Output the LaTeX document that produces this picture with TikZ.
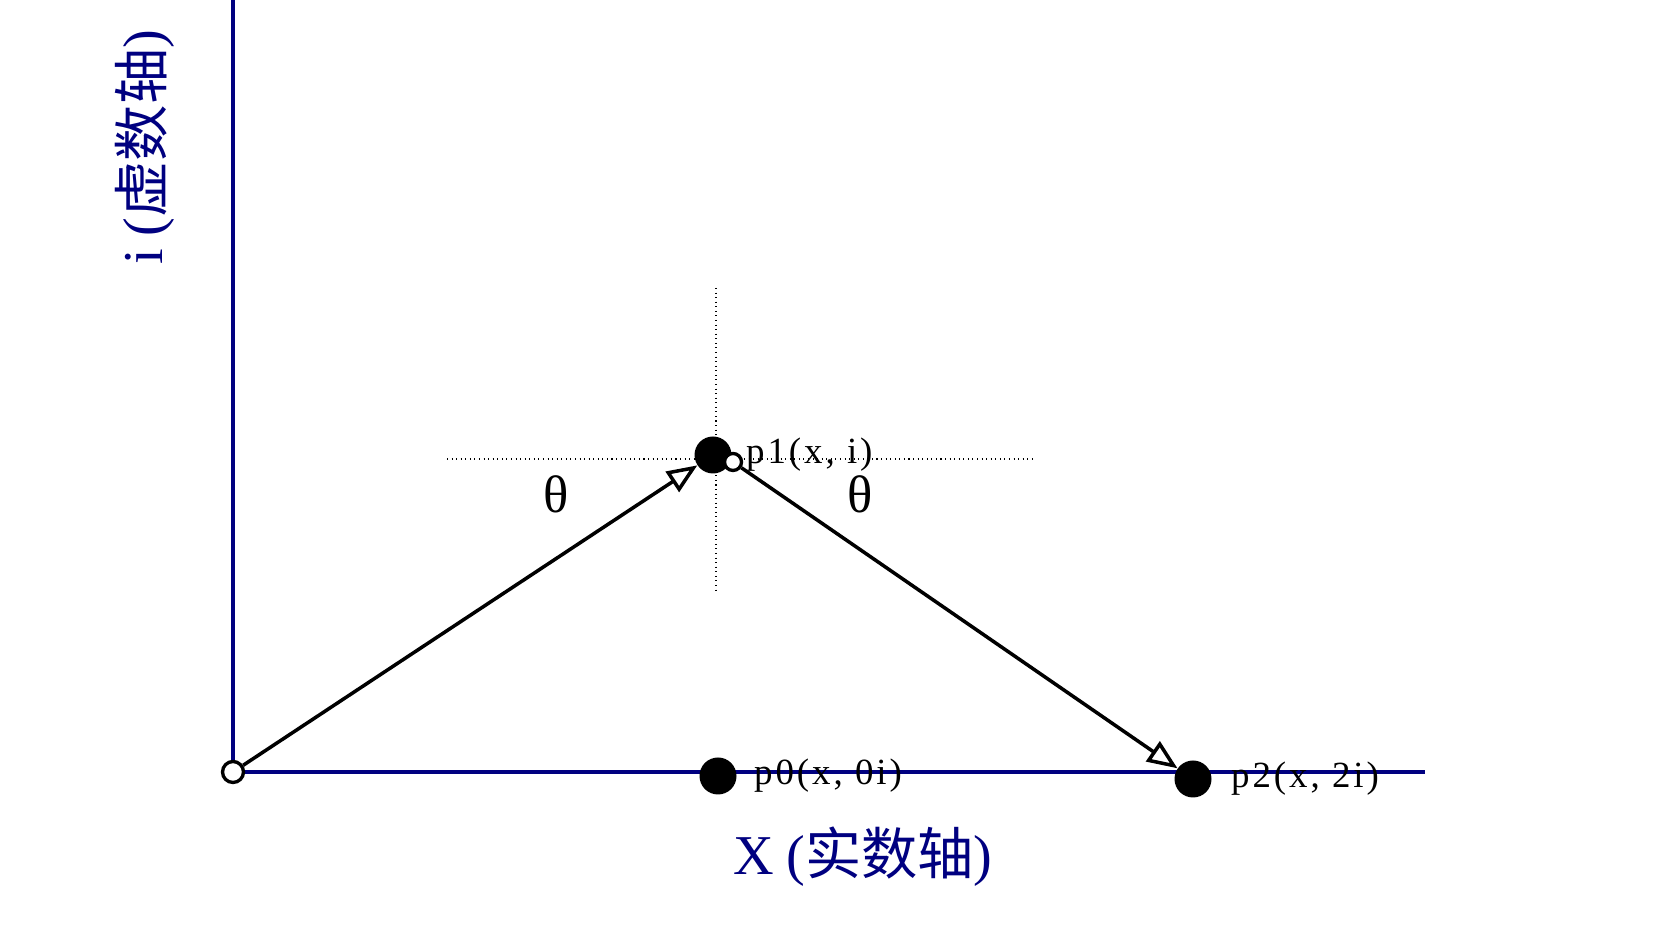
\documentclass[tikz,border=0pt]{standalone}
\usepackage{fontspec}
\newfontfamily\cjk{Noto Sans CJK SC}
\newfontfamily\griego{Liberation Serif}
\newfontfamily\letra[LetterSpace=8]{Liberation Serif}
\newfontfamily\letrat[LetterSpace=22]{Liberation Serif}
\usetikzlibrary{arrows.meta,positioning}
\definecolor{azuleje}{RGB}{0,0,128}
\begin{document}
\begin{tikzpicture}[
    eje/.style={azuleje, line width=2.2pt},
    flecha/.style={-{Triangle[open, length=0.6cm, width=0.48cm]}, line width=2pt},
    punto/.style={circle, fill=black, minimum size=0.74cm, inner sep=0},
    hueco/.style={circle, draw, fill=white, line width=1.9pt, inner sep=0},
    guia/.style={dotted, line width=0.6pt},
    etiqueta/.style={font=\letra\fontsize{21}{24}\selectfont, inner sep=0},
    titulo/.style={text=azuleje, font=\fontsize{32}{36}\selectfont},
    angulo/.style={font=\griego\fontsize{30}{34}\selectfont}
]
    \useasboundingbox (0,0) rectangle (33.22,18.88);
    % Ejes
    \coordinate (O) at (4.66,3.44);
    \coordinate (arriba) at (4.66,18.88);
    \coordinate (derecha) at (28.5,3.44);
    \draw[eje] (arriba) -- (O) -- (derecha);
    % Lineas guia
    \coordinate (g1) at (8.94,9.7);
    \coordinate (g2) at (20.7,9.7);
    \coordinate (g3) at (14.32,13.12);
    \coordinate (g4) at (14.32,7.08);
    \draw[guia] (g1) -- (g2);
    \draw[guia] (g3) -- (g4);
    % Puntos
    \node[hueco, minimum size=0.42cm] (origen) at (O) {};
    \node[punto] (p0) at (14.36,3.36) {};
    \node[punto] (p1) at (14.26,9.78) {};
    \node[hueco, minimum size=0.34cm] (q1) at (14.66,9.64) {};
    \node[punto] (p2) at (23.86,3.3) {};
    % Vectores
    \draw[flecha] (origen) -- (p1);
    \draw[flecha] (q1) -- (p2);
    % Etiquetas
    \node[etiqueta, right=0.28cm of p1] (t1) {p1(x, i)};
    \node[etiqueta, right=0.34cm of p0] (t0) {p0(x, 0i)};
    \node[etiqueta, right=0.38cm of p2] (t2) {p2(x, 2i)};
    \node[angulo] (th1) at (11.12,9.0) {θ};
    \node[angulo] (th2) at (17.2,9.0) {θ};
    \node[titulo] (ejex) at (17.26,1.74) {{\letrat X(}{\cjk 实数轴}{\letrat )}};
    \node[titulo, rotate=90] (ejei) at (2.9,15.94) {{\letrat i(}{\cjk 虚数轴}{\letrat )}};
\end{tikzpicture}
\end{document}
